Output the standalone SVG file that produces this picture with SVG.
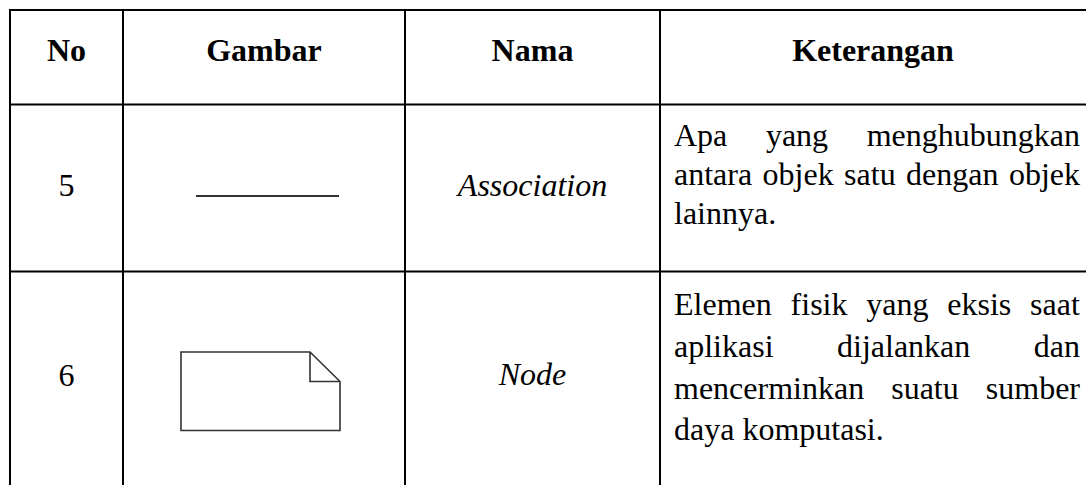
<svg xmlns="http://www.w3.org/2000/svg" width="1086" height="485" viewBox="0 0 1086 485">
<style>
.grid{stroke:#000;stroke-width:2;fill:none}
.h{font-family:"Liberation Serif","Times New Roman",serif;font-size:32px;font-weight:bold;fill:#000}
.t{font-family:"Liberation Serif","Times New Roman",serif;font-size:32px;fill:#000}
.i{font-style:italic}
.icon{stroke:#333;stroke-width:1.6;fill:none}
.assoc{stroke:#333;stroke-width:2.2;fill:none}
</style>
<rect width="1086" height="485" fill="#fff"/>
<g id="grid">
<line class="grid" x1="9" y1="10" x2="1086" y2="10"/>
<line class="grid" x1="9" y1="104.5" x2="1086" y2="104.5"/>
<line class="grid" x1="9" y1="271.5" x2="1086" y2="271.5"/>
<line class="grid" x1="10" y1="9" x2="10" y2="485"/>
<line class="grid" x1="123" y1="9" x2="123" y2="485"/>
<line class="grid" x1="405" y1="9" x2="405" y2="485"/>
<line class="grid" x1="660" y1="9" x2="660" y2="485"/>
</g>
<g id="header">
<text class="h" x="66.5" y="61" text-anchor="middle">No</text>
<text class="h" x="264" y="61" text-anchor="middle">Gambar</text>
<text class="h" x="532.5" y="61" text-anchor="middle">Nama</text>
<text class="h" x="873" y="61" text-anchor="middle">Keterangan</text>
</g>
<g id="row5">
<text class="t" x="66.5" y="196" text-anchor="middle">5</text>
<line class="assoc" x1="196" y1="196" x2="339" y2="196"/>
<text class="t i" x="532.5" y="196" text-anchor="middle">Association</text>
<text class="t" y="146"><tspan x="674">Apa</tspan><tspan x="765.9">yang</tspan><tspan x="866.7">menghubungkan</tspan></text>
<text class="t" y="185"><tspan x="674">antara</tspan><tspan x="762.6">objek</tspan><tspan x="844.1">satu</tspan><tspan x="906.1">dengan</tspan><tspan x="1008.9">objek</tspan></text>
<text class="t" y="224"><tspan x="674">lainnya.</tspan></text>
</g>
<g id="row6">
<text class="t" x="66.5" y="386" text-anchor="middle">6</text>
<path class="icon" d="M181 352 H310 L340 381.5 V430.5 H181 Z M310 352 V381.5 H340"/>
<text class="t i" x="532.5" y="385" text-anchor="middle">Node</text>
<text class="t" y="315"><tspan x="674">Elemen</tspan><tspan x="790.6">fisik</tspan><tspan x="866.3">yang</tspan><tspan x="947.3">eksis</tspan><tspan x="1030.1">saat</tspan></text>
<text class="t" y="357"><tspan x="674">aplikasi</tspan><tspan x="837">dijalankan</tspan><tspan x="1033.8">dan</tspan></text>
<text class="t" y="399"><tspan x="674">mencerminkan</tspan><tspan x="891.2">suatu</tspan><tspan x="985.8">sumber</tspan></text>
<text class="t" y="440"><tspan x="674">daya komputasi.</tspan></text>
</g>
</svg>
